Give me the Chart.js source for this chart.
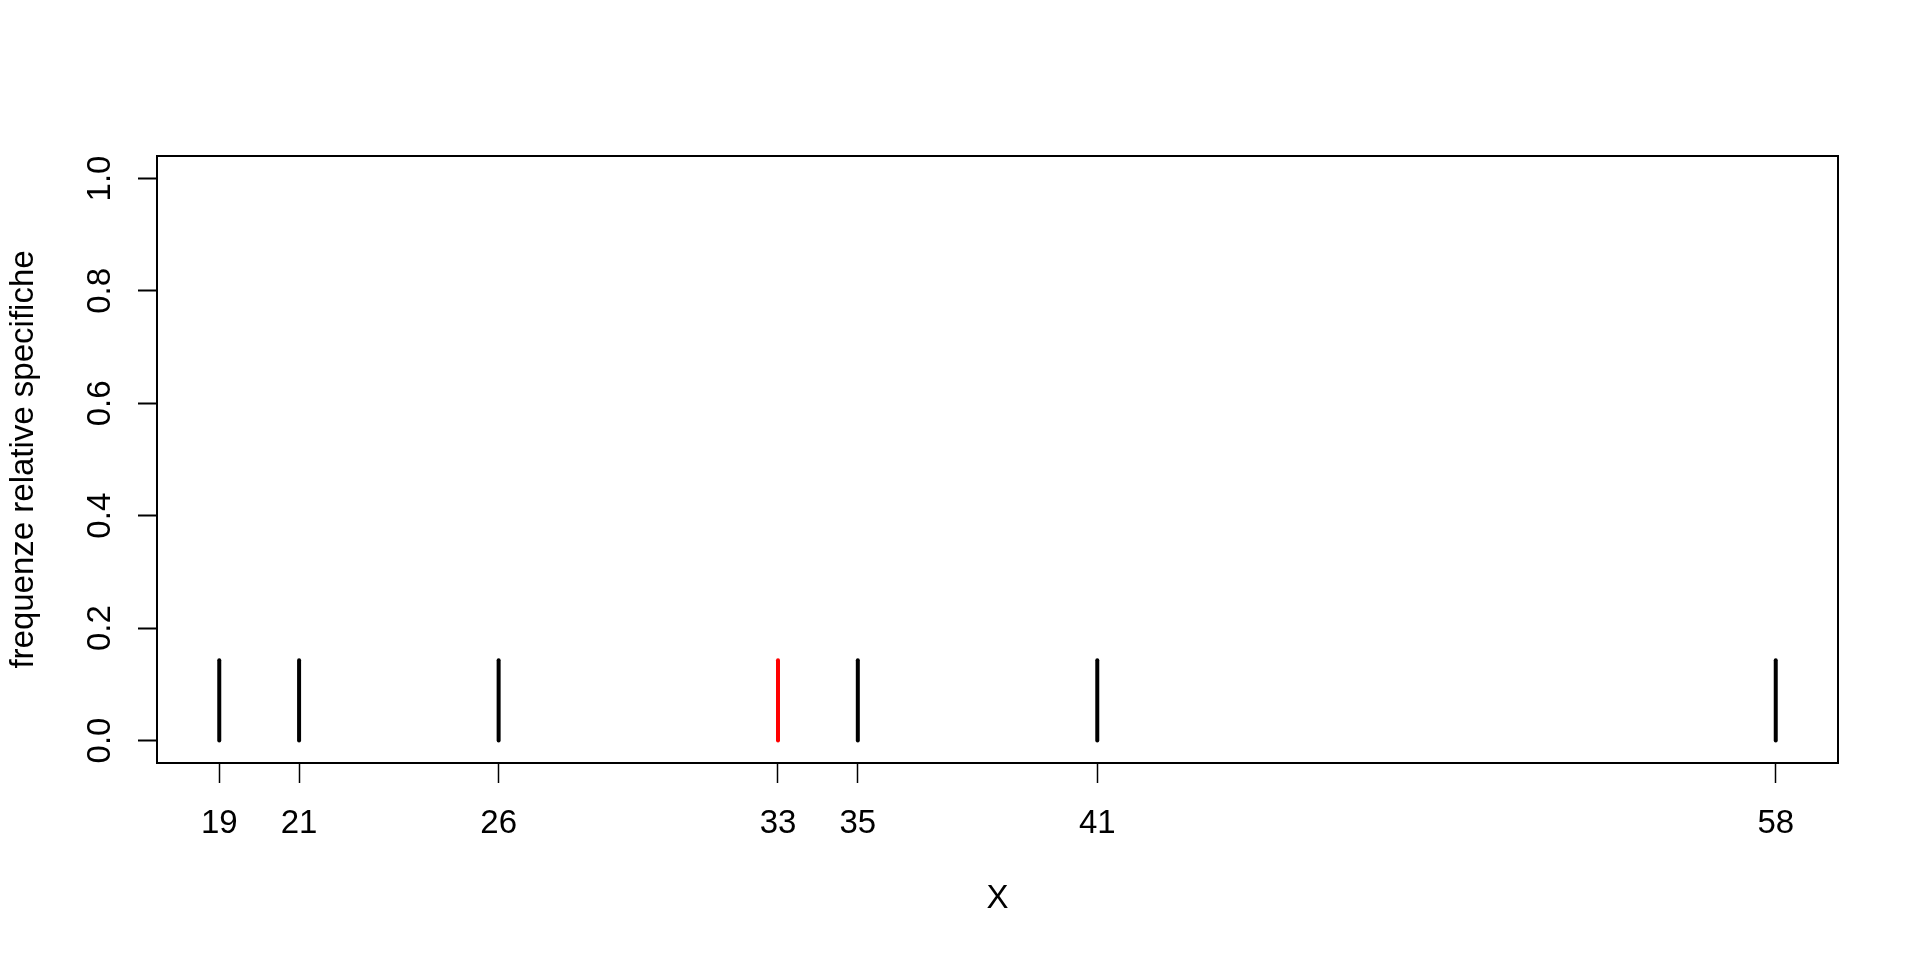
<!DOCTYPE html>
<html>
<head>
<meta charset="utf-8">
<script src="https://cdn.jsdelivr.net/npm/chart.js@4"></script>
<style>
  body { margin: 0; background: #fff; }
  #wrap { width: 1920px; height: 960px; }
</style>
</head>
<body>
<div id="wrap"><canvas id="freqChart" width="1920" height="960"></canvas></div>
<script>
// observed values of X and their relative frequencies
const xValues = [19, 21, 26, 33, 35, 41, 58];
const relFreq = [0.1429, 0.1429, 0.1429, 0.1429, 0.1429, 0.1429, 0.1429];
const medianValue = 33;

// tick labels
const xTicks = [19, 21, 26, 33, 35, 41, 58];
const yTicks = [0, 0.2, 0.4, 0.6, 0.8, 1.0];

const fontFamily = '"Liberation Sans", Arial, sans-serif';

// one vertical segment per value, from 0 up to its frequency
const datasets = xValues.map((v, i) => ({
    data: [{ x: v, y: 0 }, { x: v, y: relFreq[i] }],
    borderColor: v === medianValue ? '#ff0000' : '#000000',
    borderWidth: 4,
    borderCapStyle: 'round',
    pointRadius: 0,
    fill: false
}));

// box around the plot region, like R's box()
const boxPlugin = {
    id: 'box',
    afterDraw(chart) {
        const { ctx, chartArea } = chart;
        ctx.save();
        ctx.strokeStyle = '#000';
        ctx.lineWidth = 2;
        ctx.strokeRect(chartArea.left, chartArea.top,
            chartArea.right - chartArea.left, chartArea.bottom - chartArea.top);
        ctx.restore();
    }
};

Chart.defaults.font.family = fontFamily;
Chart.defaults.color = '#000';

const ctx = document.getElementById('freqChart').getContext('2d');
const freqChart = new Chart(ctx, {
    type: 'line',
    data: { datasets: datasets },
    options: {
        responsive: false,
        animation: false,
        layout: { padding: { top: 156, right: 82, left: 0, bottom: 0 } },
        plugins: {
            legend: { display: false },
            tooltip: { enabled: false }
        },
        scales: {
            x: {
                type: 'linear',
                min: 17.44,
                max: 59.56,
                afterBuildTicks: (scale) => {
                    scale.ticks = xTicks.map(v => ({ value: v }));
                },
                afterFit: (scale) => { scale.height = 197; },
                grid: {
                    drawOnChartArea: false,
                    drawTicks: true,
                    tickLength: 20,
                    tickWidth: 1.5,
                    tickColor: '#000'
                },
                border: { display: false },
                ticks: {
                    autoSkip: false,
                    maxRotation: 0,
                    padding: 21,
                    font: { size: 33 },
                    callback: (v) => String(v)
                },
                title: {
                    display: true,
                    text: 'X',
                    font: { size: 33 },
                    padding: { top: 0, bottom: 41 }
                }
            },
            y: {
                type: 'linear',
                min: -0.04,
                max: 1.04,
                afterBuildTicks: (scale) => {
                    scale.ticks = yTicks.map(v => ({ value: v }));
                },
                afterFit: (scale) => { scale.width = 157; },
                grid: {
                    drawOnChartArea: false,
                    drawTicks: true,
                    tickLength: 19,
                    tickWidth: 2,
                    tickColor: '#000'
                },
                border: { display: false },
                ticks: {
                    autoSkip: false,
                    minRotation: 90,
                    maxRotation: 90,
                    crossAlign: 'center',
                    padding: 14,
                    font: { size: 33 },
                    callback: (v) => Number(v).toFixed(1)
                },
                title: {
                    display: true,
                    text: 'frequenze relative specifiche',
                    font: { size: 33 },
                    padding: { top: 4, bottom: 0 }
                }
            }
        }
    },
    plugins: [boxPlugin]
});
</script>
</body>
</html>
